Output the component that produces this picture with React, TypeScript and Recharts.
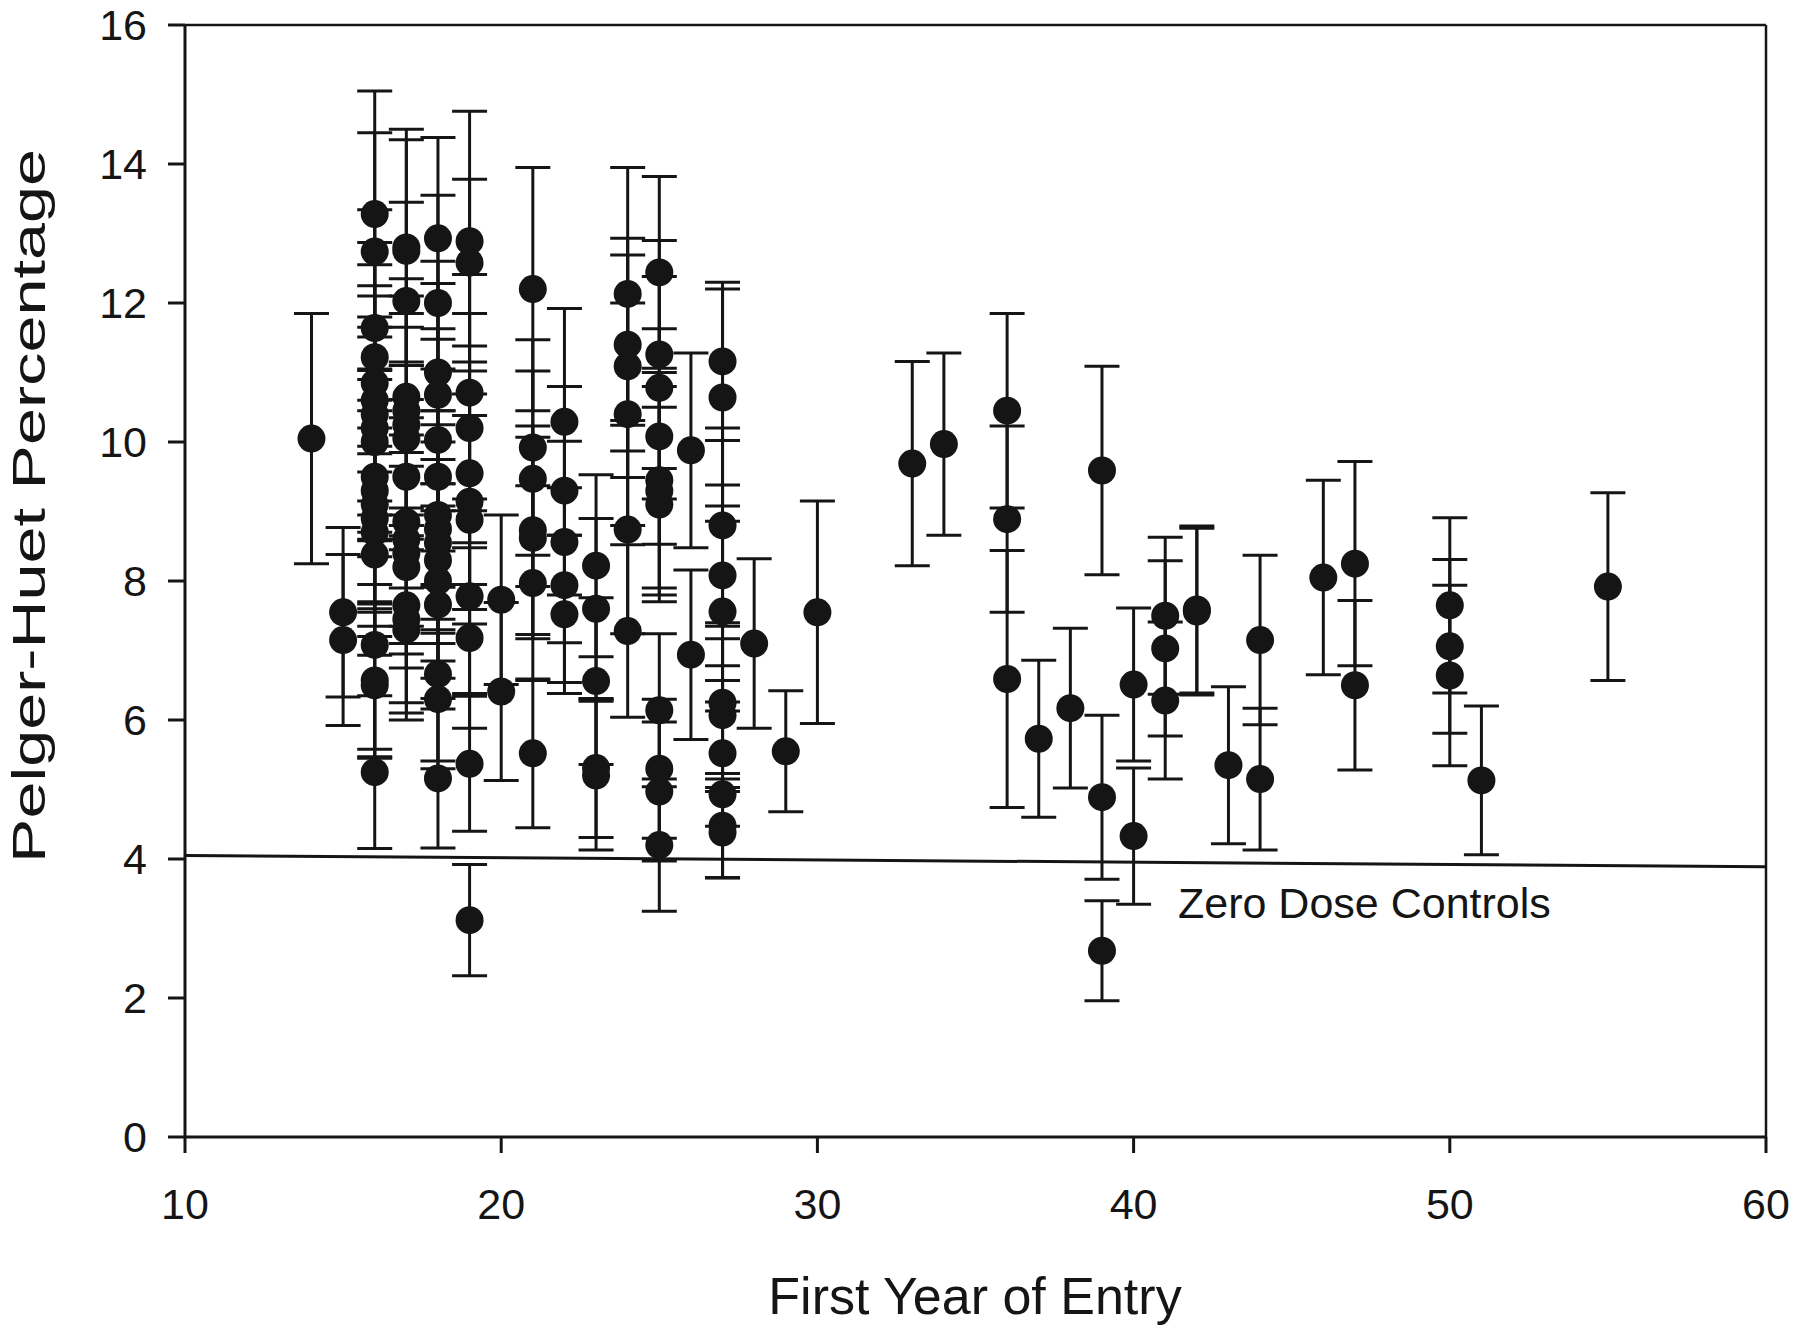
import React from "react";
import {
  ScatterChart,
  Scatter,
  XAxis,
  YAxis,
  ErrorBar,
  ReferenceLine,
} from "recharts";

// first year of entry for each sampled worker group
const entryYear = [
  14,
  15, 15,
  16, 16, 16, 16, 16, 16, 16, 16, 16, 16, 16, 16, 16, 16, 16, 16, 16, 16, 16,
  17, 17, 17, 17, 17, 17, 17, 17, 17, 17, 17, 17, 17, 17, 17,
  18, 18, 18, 18, 18, 18, 18, 18, 18, 18, 18, 18, 18, 18, 18,
  19, 19, 19, 19, 19, 19, 19, 19, 19, 19, 19,
  20, 20,
  21, 21, 21, 21, 21, 21, 21,
  22, 22, 22, 22, 22,
  23, 23, 23, 23, 23,
  24, 24, 24, 24, 24, 24,
  25, 25, 25, 25, 25, 25, 25, 25, 25, 25, 25,
  26, 26,
  27, 27, 27, 27, 27, 27, 27, 27, 27, 27, 27,
  28, 29, 30, 33, 34,
  36, 36, 36,
  37, 38,
  39, 39, 39,
  40, 40,
  41, 41, 41,
  42, 42,
  43,
  44, 44,
  46,
  47, 47,
  50, 50, 50,
  51, 55,
];

// Pelger-Huet percentage (mean)
const pelgerPct = [
  10.05,
  7.55, 7.15,
  13.28, 12.74, 11.64, 11.22, 10.85, 10.6, 10.4, 10.2, 10.0, 9.5, 9.3, 9.1, 8.9, 8.7, 8.38, 7.08, 6.57, 6.5, 5.25,
  12.8, 12.75, 12.03, 10.65, 10.45, 10.25, 10.05, 9.5, 8.85, 8.6, 8.4, 8.2, 7.65, 7.45, 7.3,
  12.93, 12.0, 11.0, 10.68, 10.03, 9.5, 8.95, 8.75, 8.55, 8.3, 8.0, 7.66, 6.66, 6.3, 5.16,
  12.89, 12.58, 10.71, 10.2, 9.55, 9.14, 8.88, 7.78, 7.18, 5.37, 3.12,
  7.73, 6.41,
  12.2, 9.92, 9.47, 8.73, 8.62, 7.97, 5.52,
  10.29, 9.3, 8.56, 7.94, 7.52,
  8.22, 7.6, 6.56, 5.31, 5.2,
  12.13, 11.4, 11.09, 10.4, 8.74, 7.28,
  12.44, 11.26, 10.78, 10.08, 9.45, 9.3, 9.1, 6.14, 5.3, 4.97, 4.2,
  9.88, 6.94,
  11.16, 10.64, 8.8, 8.08, 7.56, 6.25, 6.07, 5.52, 4.93, 4.48, 4.38,
  7.1, 5.55, 7.55, 9.69, 9.97,
  10.45, 8.89, 6.59,
  5.73, 6.17,
  9.59, 4.89, 2.68,
  6.51, 4.33,
  7.5, 7.03, 6.28,
  7.59, 7.56,
  5.35,
  7.15, 5.15,
  8.05,
  8.25, 6.5,
  7.65, 7.06, 6.64,
  5.13, 7.92,
];

// half-width of each error bar
const pctError = [
  1.8,
  1.22, 1.23,
  1.77, 1.71, 1.7, 1.65, 1.7, 1.65, 1.7, 1.6, 1.65, 1.55, 1.6, 1.5, 1.55, 1.5, 1.45, 1.5, 1.1, 1.05, 1.1,
  1.7, 1.6, 1.42, 1.7, 1.65, 1.6, 1.6, 1.6, 1.5, 1.5, 1.45, 1.45, 1.4, 1.35, 1.3,
  1.45, 1.55, 1.6, 1.6, 1.6, 1.55, 1.5, 1.5, 1.45, 1.45, 1.4, 1.35, 1.25, 1.0, 1.0,
  1.87, 1.2, 1.7, 1.65, 1.6, 1.55, 1.5, 1.4, 1.3, 0.97, 0.8,
  1.22, 1.28,
  1.75, 1.55, 1.55, 1.5, 1.45, 1.4, 1.07,
  1.63, 1.5, 1.45, 1.4, 1.14,
  1.31, 1.3, 1.2, 1.0, 1.07,
  1.82, 1.53, 1.6, 1.6, 1.5, 1.24,
  1.38, 1.64, 1.6, 1.55, 1.55, 1.5, 1.4, 1.1, 1.0, 1.0, 0.95,
  1.4, 1.22,
  1.14, 1.56, 1.4, 1.3, 1.3, 1.1, 1.1, 1.05, 1.2, 0.75, 0.65,
  1.22, 0.87, 1.6, 1.47, 1.31,
  1.4, 1.34, 1.85,
  1.13, 1.15,
  1.5, 1.18, 0.72,
  1.1, 0.98,
  1.13, 1.26, 1.13,
  1.2, 1.2,
  1.13,
  1.22, 1.02,
  1.4,
  1.47, 1.22,
  1.26, 1.25, 1.3,
  1.07, 1.35,
];

// zero dose control level (fitted line end points)
const controlX = [10, 60];
const controlY = [4.05, 3.89];

const xTicks = [10, 20, 30, 40, 50, 60];
const yTicks = [0, 2, 4, 6, 8, 10, 12, 14, 16];

const points = entryYear.map((x, i) => ({ x, y: pelgerPct[i], err: pctError[i] }));

const INK = "#151515";
const FONT = "'Liberation Sans', Arial, sans-serif";

const Dot = (props: any) => {
  const { cx, cy } = props;
  if (cx == null || cy == null) return null;
  return <circle cx={cx} cy={cy} r={14} fill={INK} />;
};

const YTitle = () => (
  <text
    transform="translate(45,506) rotate(-90)"
    textAnchor="middle"
    fontFamily={FONT}
    fontSize={46}
    fill={INK}
    textLength={714}
    lengthAdjust="spacingAndGlyphs"
  >
    Pelger-Huet Percentage
  </text>
);

const XTitle = () => (
  <text x={975} y={1314} textAnchor="middle" fontFamily={FONT} fontSize={52} fill={INK}>
    First Year of Entry
  </text>
);

const ControlLabel = () => (
  <text x={1178} y={918} fontFamily={FONT} fontSize={43} fill={INK}>
    Zero Dose Controls
  </text>
);

export default function App() {
  return (
    <div style={{ position: "absolute", left: 0, top: 0, background: "#fff" }}>
      <ScatterChart
        width={1800}
        height={1332}
        margin={{ top: 25, right: 34, bottom: 0, left: 0 }}
      >
        <XAxis
          type="number"
          dataKey="x"
          domain={[10, 60]}
          ticks={xTicks}
          interval={0}
          height={195}
          allowDataOverflow
          stroke={INK}
          strokeWidth={3}
          tickSize={16}
          tickMargin={35}
          tick={{ fill: INK, fontSize: 43, fontFamily: FONT }}
          label={{ content: XTitle }}
        />
        <YAxis
          type="number"
          dataKey="y"
          domain={[0, 16]}
          ticks={yTicks}
          interval={0}
          width={185}
          allowDataOverflow
          stroke={INK}
          strokeWidth={3}
          tickSize={17}
          tickMargin={21}
          tick={{ fill: INK, fontSize: 43, fontFamily: FONT }}
          label={{ content: YTitle }}
        />
        <ReferenceLine y={16} stroke={INK} strokeWidth={2.5} />
        <ReferenceLine x={60} stroke={INK} strokeWidth={2.5} />
        <ReferenceLine
          segment={[
            { x: controlX[0], y: controlY[0] },
            { x: controlX[1], y: controlY[1] },
          ]}
          stroke={INK}
          strokeWidth={3}
          label={{ content: ControlLabel }}
        />
        <Scatter data={points} shape={Dot} isAnimationActive={false}>
          <ErrorBar
            dataKey="err"
            direction="y"
            width={17.5}
            stroke={INK}
            strokeWidth={3}
            isAnimationActive={false}
          />
        </Scatter>
      </ScatterChart>
    </div>
  );
}
